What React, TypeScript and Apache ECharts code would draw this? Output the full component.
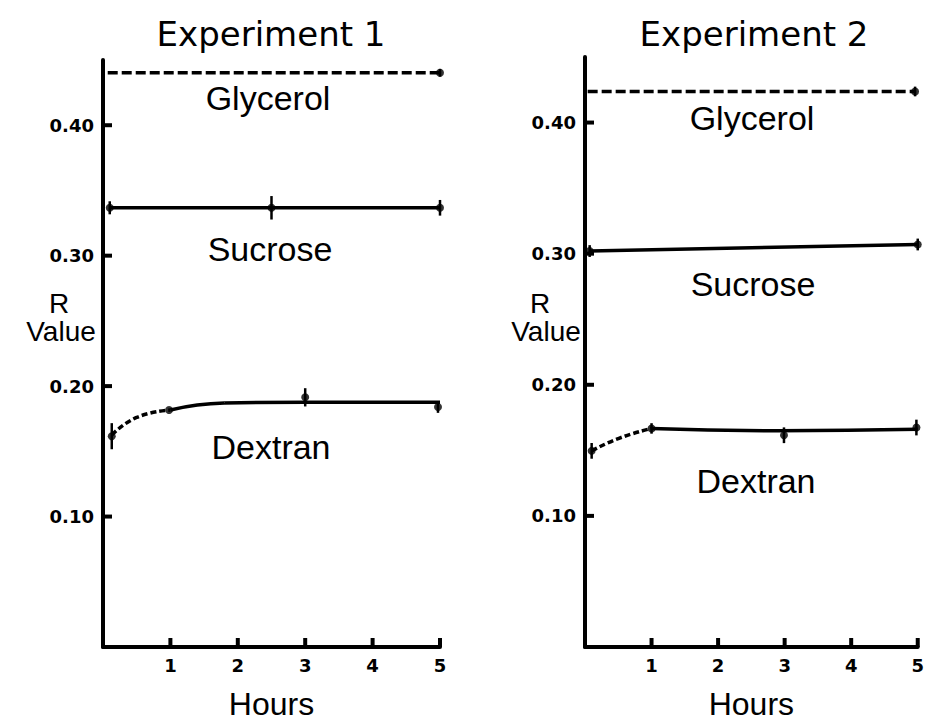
import React, { useEffect, useRef } from "react";
import * as echarts from "echarts";

// ---- Data ----
const xTicks = [1, 2, 3, 4, 5];
const yTicks = [0.1, 0.2, 0.3, 0.4];

// Experiment 1
const e1GlycerolLine = [[0.07, 0.4402], [5, 0.4402]];
const e1GlycerolPts = [[5, 0.4402, 0.003]];
const e1SucroseLine = [[0.1, 0.3367], [5, 0.3367]];
const e1SucrosePts = [[0.1, 0.3367, 0.005], [2.5, 0.3367, 0.009], [5, 0.3367, 0.006]];
const e1DextranDash = [[0.13, 0.1625], [0.5, 0.176], [1, 0.1817]];
const e1DextranSolid = [[1, 0.1817], [1.8, 0.187], [3, 0.1877], [5, 0.1877]];
const e1DextranPts = [[0.13, 0.1616, 0.01], [0.98, 0.1817, 0], [3, 0.1914, 0.007], [4.97, 0.184, 0.0045]];

// Experiment 2
const e2GlycerolLine = [[0.04, 0.4237], [4.96, 0.4237]];
const e2GlycerolPts = [[4.96, 0.4237, 0.0037]];
const e2SucroseLine = [[0.07, 0.302], [5, 0.307]];
const e2SucrosePts = [[0.07, 0.302, 0.0045], [5, 0.307, 0.0045]];
const e2DextranDash = [[0.1, 0.1496], [0.5, 0.159], [1, 0.1667]];
const e2DextranSolid = [[1, 0.1667], [2.9, 0.165], [5, 0.166]];
const e2DextranPts = [[0.1, 0.1496, 0.006], [1, 0.1667, 0.004], [2.99, 0.1615, 0.006], [4.98, 0.1674, 0.006]];

const titles = ["Experiment 1", "Experiment 2"];
const seriesNames = ["Glycerol", "Sucrose", "Dextran"];

const INK = "#000";
const LABEL_FONT = "Liberation Sans";
const TICK_FONT = "DejaVu Sans";
const TICK_LEN = 9;

function lineSeries(idx: number, data: number[][], dashed: number[] | null, smooth = false) {
  return {
    type: "line",
    xAxisIndex: idx,
    yAxisIndex: idx,
    data,
    smooth,
    showSymbol: false,
    silent: true,
    lineStyle: { color: INK, width: 3.5, type: dashed ? dashed : "solid" },
  };
}

function pointSeries(idx: number, data: number[][]) {
  return [
    {
      type: "custom",
      xAxisIndex: idx,
      yAxisIndex: idx,
      silent: true,
      data,
      renderItem: (_p: any, api: any) => {
        const x = api.value(0);
        const y = api.value(1);
        const e = api.value(2);
        const a = api.coord([x, y + e]);
        const b = api.coord([x, y - e]);
        return {
          type: "line",
          shape: { x1: a[0], y1: a[1], x2: b[0], y2: b[1] },
          style: { stroke: INK, lineWidth: 2.5 },
        };
      },
    },
    {
      type: "scatter",
      xAxisIndex: idx,
      yAxisIndex: idx,
      silent: true,
      data: data.map((d) => [d[0], d[1]]),
      symbol: "circle",
      symbolSize: 8,
      itemStyle: { color: INK },
    },
  ];
}

function xAxis(idx: number) {
  return {
    type: "value",
    gridIndex: idx,
    min: 0,
    max: 5,
    interval: 1,
    name: "Hours",
    nameLocation: "middle",
    nameGap: 41,
    nameTextStyle: { fontFamily: LABEL_FONT, fontSize: 32, color: INK },
    splitLine: { show: false },
    axisLine: { show: true, lineStyle: { color: INK, width: 4 } },
    axisTick: { show: false },
    axisLabel: {
      margin: 9,
      fontFamily: TICK_FONT,
      fontWeight: "bold",
      fontSize: 18,
      color: INK,
      formatter: (v: number) => (xTicks.includes(v) ? String(v) : ""),
    },
  };
}

function yAxis(idx: number) {
  return {
    type: "value",
    gridIndex: idx,
    min: 0,
    max: 0.45,
    interval: 0.1,
    splitLine: { show: false },
    axisLine: { show: true, lineStyle: { color: INK, width: 4 } },
    axisTick: { show: false },
    axisLabel: {
      margin: 9,
      showMaxLabel: false,
      fontFamily: TICK_FONT,
      fontWeight: "bold",
      fontSize: 18,
      color: INK,
      formatter: (v: number) =>
        yTicks.some((t) => Math.abs(t - v) < 1e-9) ? v.toFixed(2) : "",
    },
  };
}

function txt(text: string, x: number, y: number, size: number, family = LABEL_FONT, align = "center") {
  return {
    type: "text",
    x,
    y,
    silent: true,
    style: {
      text,
      fill: INK,
      fontFamily: family,
      fontSize: size,
      align,
      verticalAlign: "middle",
      textAlign: align,
      textVerticalAlign: "middle",
    },
  };
}

export default function App() {
  const ref = useRef<HTMLDivElement>(null);
  useEffect(() => {
    if (!ref.current) return;
    const chart = echarts.init(ref.current, null, { renderer: "svg" });
    chart.setOption({
      animation: false,
      backgroundColor: "#fff",
      grid: [
        { left: 103, top: 60, width: 337, height: 604 },
        { left: 585, top: 57, width: 338, height: 608 },
      ],
      xAxis: [xAxis(0), xAxis(1)],
      yAxis: [yAxis(0), yAxis(1)],
      series: [
        lineSeries(0, e1GlycerolLine, [10, 4]),
        lineSeries(0, e1SucroseLine, null),
        lineSeries(0, e1DextranDash, [6, 3], true),
        lineSeries(0, e1DextranSolid, null, true),
        ...pointSeries(0, e1GlycerolPts),
        ...pointSeries(0, e1SucrosePts),
        ...pointSeries(0, e1DextranPts),
        lineSeries(1, e2GlycerolLine, [10, 4]),
        lineSeries(1, e2SucroseLine, null),
        lineSeries(1, e2DextranDash, [6, 3], true),
        lineSeries(1, e2DextranSolid, null, true),
        ...pointSeries(1, e2GlycerolPts),
        ...pointSeries(1, e2SucrosePts),
        ...pointSeries(1, e2DextranPts),
      ],
    });

    // inside tick marks, positioned through the axes' own scales
    const tickLines: any[] = [];
    [0, 1].forEach((g) => {
      yTicks.forEach((v) => {
        const p = chart.convertToPixel({ gridIndex: g }, [0, v]) as number[];
        tickLines.push({
          type: "line",
          silent: true,
          z: 10,
          shape: { x1: p[0], y1: p[1], x2: p[0] + TICK_LEN, y2: p[1] },
          style: { stroke: INK, lineWidth: 4 },
        });
      });
      xTicks.forEach((v) => {
        const p = chart.convertToPixel({ gridIndex: g }, [v, 0]) as number[];
        tickLines.push({
          type: "line",
          silent: true,
          z: 10,
          shape: { x1: p[0], y1: p[1], x2: p[0], y2: p[1] - TICK_LEN },
          style: { stroke: INK, lineWidth: 4 },
        });
      });
    });

    chart.setOption({
      graphic: [
        txt(titles[0], 271, 34, 34, "DejaVu Sans"),
        txt(titles[1], 754, 34, 34, "DejaVu Sans"),
        txt(seriesNames[0], 268, 98, 34),
        txt(seriesNames[1], 270, 249, 34),
        txt(seriesNames[2], 271, 447, 34),
        txt(seriesNames[0], 752, 118, 34),
        txt(seriesNames[1], 753, 284, 34),
        txt(seriesNames[2], 756, 481, 34),
        txt("R", 59, 303, 28),
        txt("Value", 61, 331, 28),
        txt("R", 540, 303, 28),
        txt("Value", 546, 331, 28),
        ...tickLines,
      ],
    });
    return () => chart.dispose();
  }, []);
  return (
    <div
      ref={ref}
      style={{ position: "absolute", left: 0, top: 0, width: 927, height: 725 }}
    />
  );
}
